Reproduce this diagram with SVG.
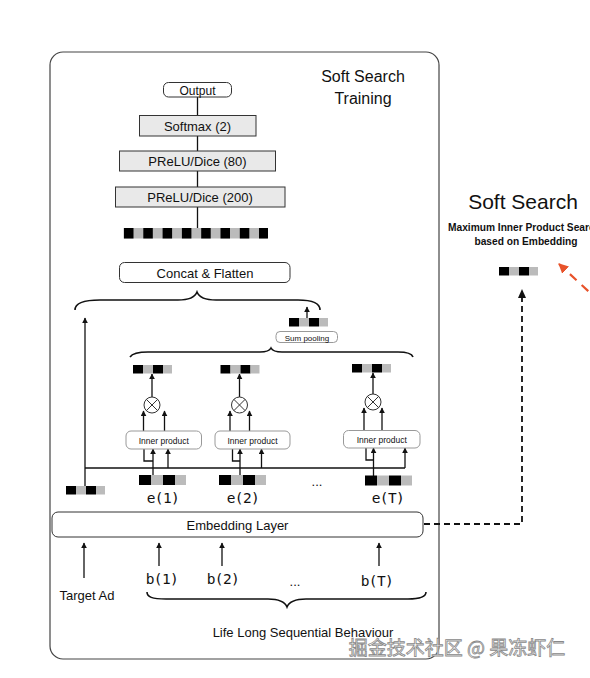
<svg xmlns="http://www.w3.org/2000/svg" width="590" height="678" viewBox="0 0 590 678">
<defs>
<marker id="ah" viewBox="0 0 10 10" refX="9" refY="5" markerWidth="6" markerHeight="6" markerUnits="userSpaceOnUse" orient="auto"><path d="M0,0 L10,5 L0,10 z" fill="#111"/></marker>
<marker id="ahr" viewBox="0 0 10 10" refX="9" refY="5" markerWidth="10" markerHeight="10" markerUnits="userSpaceOnUse" orient="auto"><path d="M0,0 L10,5 L0,10 z" fill="#e8532b"/></marker>
<g id="v4s"><rect x="0" y="0" width="10" height="8.5" fill="#000"/><rect x="10" y="0" width="10" height="8.5" fill="#bbb"/><rect x="20" y="0" width="10" height="8.5" fill="#000"/><rect x="30" y="0" width="9" height="8.5" fill="#bbb"/></g>
<g id="v4e"><rect x="0" y="0" width="12" height="10" fill="#000"/><rect x="12" y="0" width="12" height="10" fill="#bbb"/><rect x="24" y="0" width="12" height="10" fill="#000"/><rect x="36" y="0" width="11" height="10" fill="#bbb"/></g>
</defs>
<style>
text{font-family:"Liberation Sans",Arial,sans-serif;fill:#111}
.mono{font-family:"DejaVu Sans Mono","Liberation Mono",monospace;font-size:14.5px;letter-spacing:-0.6px}
.box{fill:#e9e9e9;stroke:#333;stroke-width:1}
.rbox{fill:#fff;stroke:#333;stroke-width:1}
.sbox{fill:#fff;stroke:#999;stroke-width:1}
.ln{fill:none;stroke:#111;stroke-width:1.3}
.br{fill:none;stroke:#111;stroke-width:1.6}
.arr{fill:none;stroke:#111;stroke-width:1.3;marker-end:url(#ah)}
.dash{fill:none;stroke:#111;stroke-width:1.8;stroke-dasharray:6 4}
.small{font-size:8.5px}
</style>
<rect width="590" height="678" fill="#fff"/>
<rect id="frame" x="50" y="52" width="389" height="607" rx="13" fill="none" stroke="#444" stroke-width="1.2"/>
<g id="title"><text x="363" y="82" font-size="16" text-anchor="middle">Soft Search</text><text x="363" y="104" font-size="16" text-anchor="middle">Training</text></g>

<g id="connectors">
<line class="ln" x1="197.5" y1="97" x2="197.5" y2="228"/>
<path class="arr" d="M85,486 V318"/>
<path class="ln" d="M85,468 H405"/>
<path class="arr" d="M307,318 V307"/>
<path class="arr" d="M152,397 V374"/>
<path class="arr" d="M143.5,431 V411"/>
<path class="arr" d="M164.5,431 V411"/>
<path class="arr" d="M153,475 V449"/>
<path class="ln" d="M153,461 H144 V449"/>
<path class="arr" d="M168,468 V449"/>
<path class="arr" d="M239.5,397 V374"/>
<path class="arr" d="M230,431 V411"/>
<path class="arr" d="M249.5,431 V411"/>
<path class="arr" d="M240,475 V449"/>
<path class="ln" d="M240,461 H232.5 V449"/>
<path class="arr" d="M261.5,468 V449"/>
<path class="arr" d="M373,394 V373"/>
<path class="arr" d="M364,431 V408"/>
<path class="arr" d="M382,431 V408"/>
<path class="arr" d="M373.5,476 V448"/>
<path class="ln" d="M373.5,460 H366 V448"/>
<path class="arr" d="M405,468 V448"/>
<path class="arr" d="M84,578 V543"/>
<path class="arr" d="M159,566 V543"/>
<path class="arr" d="M222,566 V543"/>
<path class="arr" d="M379,566 V543"/>
<path class="br" d="M75,310 C75,303 84,300 100,300 L178,300 C189,300 195,297 197,292 C199,297 205,300 216,300 L298,300 C312,300 320,303 320,310"/>
<path class="br" d="M130,357 C132,354 138,352 148,352 L260,352 C266,352 270,350 271,348 C272,350 276,352 282,352 L398,352 C406,352 412,354 413,357" stroke-width="1.3"/>
<path class="br" d="M147,592 C147,597 152,599 166,599 L268,599 C279,599 285,602 287,607 C289,602 295,599 306,599 L408,599 C420,599 426,597 426,592"/>
<path class="dash" d="M424,524 H522 V293"/>
<path d="M522,289 L518,298 L526,298 z" fill="#111"/>
<path d="M600,302 L559,264" fill="none" stroke="#e8532b" stroke-width="2.2" stroke-dasharray="9 7" marker-end="url(#ahr)"/>
</g>

<g id="output"><rect class="rbox" x="163.5" y="82.5" width="68" height="14.5" rx="5"/><text x="197.5" y="94.5" font-size="12" text-anchor="middle">Output</text></g>
<g id="softmax"><rect class="box" x="139.5" y="115.5" width="116.5" height="20.5"/><text x="197.5" y="130.5" font-size="13" text-anchor="middle">Softmax (2)</text></g>
<g id="prelu80"><rect class="box" x="119.5" y="151" width="156" height="20"/><text x="197.5" y="166" font-size="13" text-anchor="middle">PReLU/Dice (80)</text></g>
<g id="prelu200"><rect class="box" x="115.5" y="187" width="169.5" height="20"/><text x="200" y="202" font-size="13" text-anchor="middle">PReLU/Dice (200)</text></g>
<g id="hidden-vec">
<rect x="123.5" y="228" width="144" height="10.5" fill="#bbb"/>
<g fill="#000"><rect x="124" y="228" width="9.5" height="10.5"/><rect x="143.3" y="228" width="9.5" height="10.5"/><rect x="162.6" y="228" width="9.5" height="10.5"/><rect x="181.9" y="228" width="9.5" height="10.5"/><rect x="201.2" y="228" width="9.5" height="10.5"/><rect x="220.5" y="228" width="9.5" height="10.5"/><rect x="239.8" y="228" width="9.5" height="10.5"/><rect x="259" y="228" width="9" height="10.5"/></g>
</g>
<g id="concat"><rect class="rbox" x="119.5" y="262.5" width="170.5" height="20" rx="5"/><text x="205" y="277.5" font-size="13" text-anchor="middle">Concat &amp; Flatten</text></g>

<g id="sumpool"><use href="#v4s" x="289" y="318"/><rect class="sbox" x="276" y="331.5" width="61.5" height="11" rx="4"/><text x="307" y="340.5" font-size="8" text-anchor="middle">Sum pooling</text></g>

<g id="unit1">
<use href="#v4s" x="133" y="365"/>
<circle cx="152" cy="405" r="8" fill="#fff" stroke="#333" stroke-width="1"/>
<path d="M146.3,399.3 L157.7,410.7 M157.7,399.3 L146.3,410.7" stroke="#333" stroke-width="1"/>
<rect class="sbox" x="126" y="431" width="75.5" height="18" rx="5"/><text x="163.8" y="443.5" class="small" text-anchor="middle">Inner product</text>
</g>
<g id="unit2">
<use href="#v4s" x="220.5" y="365"/>
<circle cx="239.5" cy="405" r="8" fill="#fff" stroke="#333" stroke-width="1"/>
<path d="M233.8,399.3 L245.2,410.7 M245.2,399.3 L233.8,410.7" stroke="#333" stroke-width="1"/>
<rect class="sbox" x="215" y="431" width="75" height="18" rx="5"/><text x="252.5" y="443.5" class="small" text-anchor="middle">Inner product</text>
</g>
<g id="unitT">
<use href="#v4s" x="352" y="364"/>
<circle cx="373" cy="402" r="8" fill="#fff" stroke="#333" stroke-width="1"/>
<path d="M367.3,396.3 L378.7,407.7 M378.7,396.3 L367.3,407.7" stroke="#333" stroke-width="1"/>
<rect class="sbox" x="343.5" y="430.5" width="76.5" height="17.5" rx="5"/><text x="381.8" y="442.5" class="small" text-anchor="middle">Inner product</text>
</g>

<g id="emb-target"><use href="#v4s" x="66" y="486"/></g>
<g id="e1"><use href="#v4e" x="139" y="475"/><text x="163" y="503" class="mono" text-anchor="middle">e(1)</text></g>
<g id="e2"><use href="#v4e" x="219" y="475"/><text x="243" y="503" class="mono" text-anchor="middle">e(2)</text></g>
<g id="edots"><text x="317" y="486" font-size="13" text-anchor="middle">...</text></g>
<g id="eT"><use href="#v4e" x="365" y="475.5"/><text x="388" y="503" class="mono" text-anchor="middle">e(T)</text></g>

<g id="embedding"><rect class="rbox" x="52" y="512" width="371" height="25" rx="6"/><text x="237.5" y="529.5" font-size="13" text-anchor="middle">Embedding Layer</text></g>

<g id="target-ad"><text x="87" y="600" font-size="13" text-anchor="middle">Target Ad</text></g>
<g id="b1"><text x="162" y="584" class="mono" text-anchor="middle">b(1)</text></g>
<g id="b2"><text x="223" y="584" class="mono" text-anchor="middle">b(2)</text></g>
<g id="bdots"><text x="295" y="586" font-size="13" text-anchor="middle">...</text></g>
<g id="bT"><text x="377" y="586" class="mono" text-anchor="middle">b(T)</text></g>
<g id="lifelong"><text x="303" y="637" font-size="13" text-anchor="middle">Life Long Sequential Behaviour</text></g>

<g id="soft-search">
<text x="523" y="209" font-size="21" text-anchor="middle">Soft Search</text>
<text x="448" y="231" font-size="10.2" font-weight="bold">Maximum Inner Product Search</text>
<text x="526" y="245" font-size="10.2" font-weight="bold" text-anchor="middle">based on Embedding</text>
<use href="#v4s" x="499" y="267"/>
</g>

<g id="watermark"><text x="457" y="655" font-size="19" text-anchor="middle" stroke="#888" stroke-width="0.8" style="font-family:'Noto Sans CJK SC','Liberation Sans',sans-serif;fill:#fff">掘金技术社区 @ 果冻虾仁</text></g>
</svg>
